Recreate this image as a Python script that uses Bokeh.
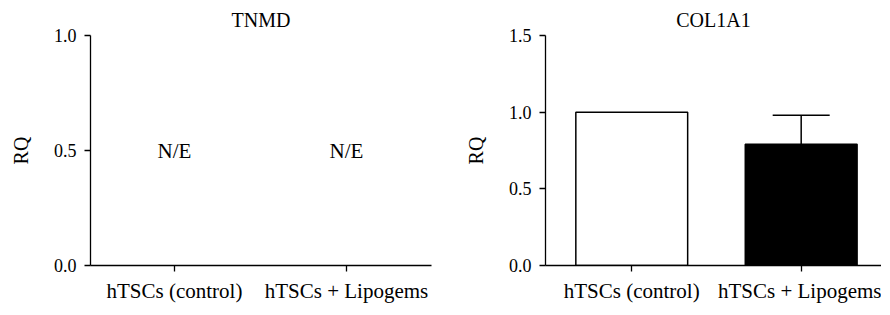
from bokeh.plotting import figure
from bokeh.layouts import row
from bokeh.models import ColumnDataSource, Range1d, FixedTicker, Whisker, TeeHead, NumeralTickFormatter
from bokeh.core.properties import value
from bokeh.embed import file_html
from bokeh.resources import INLINE

categories = ["hTSCs (control)", "hTSCs + Lipogems"]
tnmd_labels = ["N/E", "N/E"]
tnmd_label_y = [0.5, 0.5]
col_means = [1.0, 0.79]
col_err = [0.0, 0.19]
bar_colors = ["white", "black"]

FONT = "'Liberation Serif', serif"

def style(p, yticks):
    p.title.text_font = FONT
    p.title.text_font_size = "20px"
    p.title.text_font_style = "normal"
    p.title.text_color = "black"
    p.title.align = "center"
    p.grid.visible = False
    p.outline_line_color = None
    p.xaxis.ticker = FixedTicker(ticks=[0, 1])
    p.xaxis.major_label_overrides = {0: categories[0], 1: categories[1]}
    p.yaxis.ticker = FixedTicker(ticks=yticks)
    p.yaxis.formatter = NumeralTickFormatter(format="0.0")
    for ax in (p.xaxis[0], p.yaxis[0]):
        ax.major_label_text_font = FONT
        ax.major_label_text_color = "black"
        ax.axis_line_color = "black"
        ax.axis_line_width = 1.3
        ax.major_tick_line_color = "black"
        ax.major_tick_line_width = 1.3
        ax.major_tick_out = 6
        ax.major_tick_in = 0
        ax.minor_tick_line_color = None
        ax.axis_label_text_font = FONT
        ax.axis_label_text_font_size = "20px"
        ax.axis_label_text_font_style = "normal"
        ax.axis_label_text_color = "black"
    p.xaxis.major_label_text_font_size = "21px"
    p.yaxis.major_label_text_font_size = "18px"
    p.xaxis.major_label_standoff = 7
    p.yaxis.major_label_standoff = 8
    p.yaxis.axis_label = "RQ"
    p.yaxis.axis_label_standoff = 19

p1 = figure(width=437, height=307, title="TNMD", output_backend="svg", toolbar_location=None,
            x_range=Range1d(-0.488, 1.494), y_range=Range1d(0, 1.0),
            min_border_left=90, min_border_right=6, min_border_top=35, min_border_bottom=42)
style(p1, [0, 0.5, 1.0])
src1 = ColumnDataSource(dict(x=[0, 1], y=tnmd_label_y, t=tnmd_labels))
p1.text(x="x", y="y", text="t", source=src1, text_font=value(FONT), text_font_size="21px",
        text_align="center", text_baseline="middle", text_color="black")

p2 = figure(width=444, height=307, title="COL1A1", output_backend="svg", toolbar_location=None,
            x_range=Range1d(-0.509, 1.474), y_range=Range1d(0, 1.5),
            min_border_left=108, min_border_right=0, min_border_top=35, min_border_bottom=42)
style(p2, [0, 0.5, 1.0, 1.5])
upper = [m + e for m, e in zip(col_means, col_err)]
src2 = ColumnDataSource(dict(x=[0, 1], top=col_means, color=bar_colors, upper=upper))
p2.vbar(x="x", top="top", bottom=0, width=0.66, source=src2, fill_color="color",
        line_color="black", line_width=1.5)
src_err = ColumnDataSource(dict(x=[1], lower=[col_means[1]], upper=[upper[1]]))
w = Whisker(base="x", lower="lower", upper="upper", source=src_err, line_color="black", line_width=1.5,
            lower_head=None, upper_head=TeeHead(size=57, line_color="black", line_width=1.5))
p2.add_layout(w)

layout = row(p1, p2)
open("out.html", "w").write(file_html(layout, INLINE))
